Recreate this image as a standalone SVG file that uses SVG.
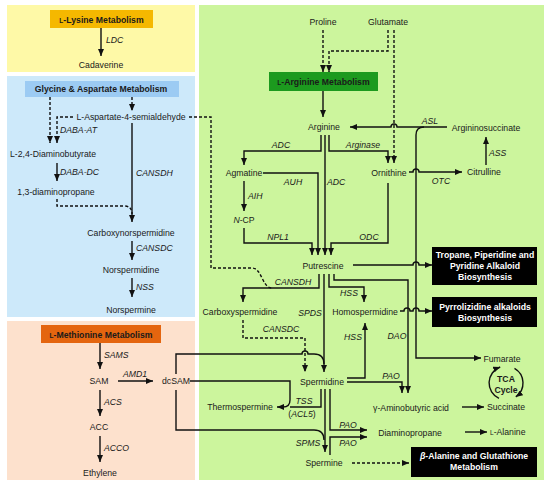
<svg xmlns="http://www.w3.org/2000/svg" width="550" height="488" viewBox="0 0 550 488">
<defs>
<style>
text{font-family:"Liberation Sans",Arial,Helvetica,sans-serif;font-size:8.7px;fill:#1a1a1a;text-anchor:middle}
.b{font-weight:bold}
.w{fill:#fff;font-weight:bold}
.e{font-style:italic}
.s{text-anchor:start}
.ln{fill:none;stroke:#111;stroke-width:1.4}
.d{fill:none;stroke:#111;stroke-width:1.4;stroke-dasharray:3 2}
.bk{fill:#000}
</style>
<marker id="ah" markerWidth="7" markerHeight="6" refX="7" refY="3" orient="auto" markerUnits="userSpaceOnUse"><path d="M0,0 L7,3 L0,6 z" fill="#111"/></marker>
</defs>
<rect width="550" height="488" fill="#fff"/>
<g id="panels">
<rect x="7" y="5" width="188" height="67" fill="#fef9a7"/>
<rect x="7" y="76" width="188" height="241" fill="#cde9fa"/>
<rect x="7" y="321" width="188" height="159" fill="#fde1cd"/>
<rect x="199" y="5" width="345" height="475" fill="#ccf59d"/>
</g>
<g id="connectors" marker-end="url(#ah)">
<path class="ln" d="M101,28 V56"/>
<path class="d" d="M50,97 V143"/>
<path class="d" d="M73,117 H57 V143"/>
<path class="d" d="M132,97 V111"/>
<path class="d" d="M189,117 H211 V268 H252 C262,268 262,288 272,288" marker-end="none"/>
<path class="ln" d="M132,123 V222"/>
<path class="ln" d="M57,163 V181"/>
<path class="d" d="M57,199 V206 H124 Q132,206 132,214" marker-end="none"/>
<path class="ln" d="M132,241 V260"/>
<path class="ln" d="M132,278 V297"/>
<path class="ln" d="M100,343 V369"/>
<path class="ln" d="M118,381 H153"/>
<path class="ln" d="M100,390 V416"/>
<path class="ln" d="M100,436 V462"/>
<path class="ln" d="M176,374 V354 H302 a3,3 0 0 1 6,0 H314 Q324,354 324,364" marker-end="none"/>
<path class="ln" d="M190,381 H290 V400 Q290,407 283,407 H277"/>
<path class="ln" d="M176,390 V430 H314 Q324,430 324,440" marker-end="none"/>
<path class="ln" d="M321,389 V407 H290" marker-end="none"/>
<path class="d" d="M323,30 V72"/>
<path class="d" d="M388,30 V51 H329 V72"/>
<path class="d" d="M394,30 V163"/>
<path class="ln" d="M323,91 V117"/>
<path class="ln" d="M447,127 H397 a3,3 0 0 0 -6,0 H350"/>
<path class="ln" d="M424,127 Q416,127 416,135 V358 H481"/>
<path class="ln" d="M486,165 V137"/>
<path class="ln" d="M409,172 H413 a3,3 0 0 1 6,0 H462"/>
<path class="ln" d="M321,135 V151 H244 V165"/>
<path class="ln" d="M325,135 V255"/>
<path class="ln" d="M329,135 V151 H388 V163"/>
<path class="ln" d="M263,173 H318 V255"/>
<path class="ln" d="M244,181 V211"/>
<path class="ln" d="M244,228 V243 H312 V255"/>
<path class="ln" d="M388,183 V243 H331 V255"/>
<path class="ln" d="M319,274 V288 H243 V302"/>
<path class="ln" d="M324,274 V372"/>
<path class="ln" d="M329,274 V287 H364 V302"/>
<path class="ln" d="M334,274 V280 H408 V393"/>
<path class="ln" d="M353,265 H413 a3,3 0 0 1 6,0 H432"/>
<path class="ln" d="M400,311 H404 a3,3 0 0 1 6,0 H413 a3,3 0 0 1 6,0 H432"/>
<path class="ln" d="M347,378 H365 V323"/>
<path class="ln" d="M347,382 H402 V393"/>
<path class="d" d="M243,320 V338 H305 V372"/>
<path class="ln" d="M325,389 V452"/>
<path class="ln" d="M330,389 V430 H367"/>
<path class="ln" d="M330,455 V437 H367"/>
<path class="d" d="M352,463 H409"/>
<path class="ln" d="M462,407 H484"/>
<path class="ln" d="M465,432 H487"/>
<path class="ln" d="M499,398.4 A17,17 0 0 1 500.2,367"/>
<path class="ln" d="M514.5,368.3 A17,17 0 0 1 515.8,396.9"/>
</g>
<g id="n-lysine"><rect x="50" y="10" width="103" height="18" fill="#f5b800"/><text class="b" x="101.5" y="22.5"><tspan font-size="6.5">L</tspan>-Lysine Metabolism</text></g>
<g id="n-cadaverine"><text x="101" y="68">Cadaverine</text></g>
<g id="n-glyasp"><rect x="25" y="81" width="154" height="16" fill="#9ccbf3"/><text class="b" x="101" y="92">Glycine &amp; Aspartate  Metabolism</text></g>
<g id="n-asa"><text x="131" y="120">L-Aspartate-4-semialdehyde</text></g>
<g id="n-daba"><text x="53" y="157">L-2,4-Diaminobutyrate</text></g>
<g id="n-dap13"><text x="56" y="195">1,3-diaminopropane</text></g>
<g id="n-cnspd"><text x="131" y="236">Carboxynorspermidine</text></g>
<g id="n-nspd"><text x="131" y="273">Norspermidine</text></g>
<g id="n-nspm"><text x="131" y="313">Norspermine</text></g>
<g id="n-met"><rect x="41" y="325" width="120" height="18" fill="#e4650f"/><text class="b" x="101" y="337.5"><tspan font-size="6.5">L</tspan>-Methionine Metabolism</text></g>
<g id="n-sam"><text x="99" y="384">SAM</text></g>
<g id="n-dcsam"><text x="176" y="384">dcSAM</text></g>
<g id="n-acc"><text x="99" y="430">ACC</text></g>
<g id="n-ethylene"><text x="100" y="476">Ethylene</text></g>
<g id="n-proline"><text x="323" y="25">Proline</text></g>
<g id="n-glutamate"><text x="388" y="25">Glutamate</text></g>
<g id="n-argmet"><rect x="269" y="72" width="109" height="19" fill="#1c9a1e"/><text class="b" x="323.5" y="84.5"><tspan font-size="6.5">L</tspan>-Arginine Metabolism</text></g>
<g id="n-arginine"><text x="324" y="130">Arginine</text></g>
<g id="n-argsucc"><text x="486" y="131">Argininosuccinate</text></g>
<g id="n-citrulline"><text x="484" y="175">Citrulline</text></g>
<g id="n-ornithine"><text x="389" y="176">Ornithine</text></g>
<g id="n-agmatine"><text x="244" y="176">Agmatine</text></g>
<g id="n-ncp"><text x="244" y="223"><tspan class="e">N</tspan>-CP</text></g>
<g id="n-putrescine"><text x="323" y="269">Putrescine</text></g>
<g id="n-tropane"><rect class="bk" x="432" y="247" width="105" height="38"/><text class="w" x="485" y="258">Tropane, Piperidine and</text><text class="w" x="485" y="269">Pyridine Alkaloid</text><text class="w" x="485" y="280">Biosynthesis</text></g>
<g id="n-pyrrol"><rect class="bk" x="432" y="297" width="105" height="30"/><text class="w" x="485" y="310">Pyrrolizidine alkaloids</text><text class="w" x="485" y="321">Biosynthesis</text></g>
<g id="n-cspd"><text x="240" y="315">Carboxyspermidine</text></g>
<g id="n-hspd"><text x="365" y="315">Homospermidine</text></g>
<g id="n-spd"><text x="322" y="385">Spermidine</text></g>
<g id="n-tspm"><text x="240" y="410">Thermospermine</text></g>
<g id="n-gaba"><text x="411" y="411">γ-Aminobutyric acid</text></g>
<g id="n-fumarate"><text x="502" y="362">Fumarate</text></g>
<g id="n-tca"><text class="b" x="506" y="382">TCA</text><text class="b" x="506" y="393">Cycle</text></g>
<g id="n-succinate"><text x="506" y="410">Succinate</text></g>
<g id="n-dap"><text x="410" y="436">Diaminopropane</text></g>
<g id="n-ala"><text class="s" x="490" y="435"><tspan font-size="6.5">L</tspan>-Alanine</text></g>
<g id="n-spm"><text x="324" y="466">Spermine</text></g>
<g id="n-bala"><rect class="bk" x="411" y="447" width="126" height="30"/><text class="w" x="474" y="459"><tspan font-style="italic">β</tspan>-Alanine and Glutathione</text><text class="w" x="474" y="470">Metabolism</text></g>
<g id="labels">
<text class="e s" x="106" y="43">LDC</text>
<text class="e s" x="60" y="133">DABA-AT</text>
<text class="e s" x="60" y="175">DABA-DC</text>
<text class="e s" x="136" y="176">CANSDH</text>
<text class="e s" x="136" y="251">CANSDC</text>
<text class="e s" x="136" y="290">NSS</text>
<text class="e s" x="104" y="358">SAMS</text>
<text class="e" x="135" y="377">AMD1</text>
<text class="e s" x="104" y="405">ACS</text>
<text class="e s" x="104" y="451">ACCO</text>
<text class="e" x="281" y="148">ADC</text>
<text class="e" x="363" y="148">Arginase</text>
<text class="e" x="293" y="185">AUH</text>
<text class="e s" x="327" y="185">ADC</text>
<text class="e s" x="248" y="199">AIH</text>
<text class="e" x="278" y="240">NPL1</text>
<text class="e" x="369" y="240">ODC</text>
<text class="e" x="430" y="124">ASL</text>
<text class="e s" x="489" y="156">ASS</text>
<text class="e" x="441" y="184">OTC</text>
<text class="e" x="293" y="285">CANSDH</text>
<text class="e" x="349" y="296">HSS</text>
<text class="e" x="310" y="316">SPDS</text>
<text class="e" x="281" y="332">CANSDC</text>
<text class="e" x="353" y="340">HSS</text>
<text class="e" x="397" y="339">DAO</text>
<text class="e" x="391" y="379">PAO</text>
<text class="e" x="304" y="404">TSS</text>
<text x="302" y="417">(<tspan class="e">ACL5</tspan>)</text>
<text class="e" x="348" y="428">PAO</text>
<text class="e" x="348" y="446">PAO</text>
<text class="e" x="308" y="446">SPMS</text>
</g>
</svg>
